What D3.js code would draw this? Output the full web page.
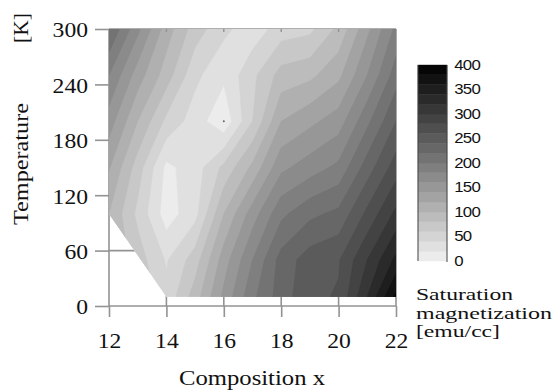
<!DOCTYPE html>
<html><head><meta charset="utf-8">
<script src="https://cdn.jsdelivr.net/npm/d3@7"></script>
<style>body{margin:0;background:#fff} svg{display:block}</style>
</head><body>
<svg id="chart" width="554" height="390"></svg>
<script>
// ---- data ----
const compositions = [12, 13, 14, 15, 16, 17, 18, 19, 20, 21, 22];
const temperatures = [300, 250, 200, 150, 100, 50, 10];
// saturation magnetization [emu/cc], one row per temperature
const ms300 = [220, 165, 110, 70, 45, 28, 50, 55, 85, 135, 185];
const ms250 = [180, 130, 90, 45, 24, 55, 88, 95, 115, 160, 210];
const ms200 = [150, 100, 55, 30, 5, 60, 120, 135, 150, 195, 240];
const ms150 = [122, 70, 15, 30, 65, 105, 155, 170, 185, 230, 270];
const ms100 = [100, 55, 10, 33, 100, 150, 195, 215, 225, 265, 305];
const ms50  = [100, 70, 38, 70, 130, 180, 228, 250, 258, 300, 345];
const ms10  = [110, 80, 45, 90, 145, 195, 230, 255, 262, 320, 385];
const validRegion = [[12, 100], [12, 300], [22, 300], [22, 10], [14, 10]];
const peakMarker = [[16, 200]];
const xTicks = [12, 14, 16, 18, 20, 22];
const yTicks = [0, 60, 120, 180, 240, 300];
const levels = d3.range(0, 400, 20);
const legendTicks = [0, 50, 100, 150, 200, 250, 300, 350, 400];

// ---- layout ----
const svg = d3.select("#chart");
const x = d3.scaleLinear().domain([12, 22]).range([109, 396]);
const y = d3.scaleLinear().domain([0, 300]).range([306, 29]);
const gray = v => { const k = Math.floor(v / 20); const g = Math.round(236 - 12.1 * k); return `rgb(${g},${g},${g})`; };
const lineColor = "#939393";
const serif = "'Liberation Serif','Times New Roman',serif";

// grid lines (under the fill)
const grid = svg.append("g").attr("stroke", lineColor).attr("stroke-width", 1.6);
grid.selectAll(".gy").data(yTicks).join("line")
  .attr("x1", x(12)).attr("x2", x(22)).attr("y1", d => y(d)).attr("y2", d => y(d));
grid.selectAll(".gx").data(xTicks).join("line")
  .attr("y1", y(0)).attr("y2", y(300)).attr("x1", d => x(d)).attr("x2", d => x(d));

// axes
const yAxis = svg.append("g").attr("transform", `translate(${x(12)},0)`)
  .call(d3.axisLeft(y).tickValues(yTicks).tickSizeInner(14).tickSizeOuter(0));
const xAxis = svg.append("g").attr("transform", `translate(0,${y(0)})`)
  .call(d3.axisBottom(x).tickValues(xTicks).tickSizeInner(11).tickSizeOuter(0));
[yAxis, xAxis].forEach(a => {
  a.select(".domain").remove();
  a.selectAll(".tick line").attr("stroke", lineColor).attr("stroke-width", 1.6);
  a.selectAll("text").attr("fill", "#111").style("font-family", serif).style("font-size", "20px");
});
yAxis.selectAll("text").attr("x", null).attr("dy", "0.34em")
  .attr("transform", "translate(-21,1) scale(1.18,1)");
xAxis.selectAll("text").attr("y", 42).attr("dy", 0)
  .attr("transform", "scale(1.18,1)");

// contour fill
const nx = compositions.length, ny = temperatures.length;
const values = [ms300, ms250, ms200, ms150, ms100, ms50, ms10].flat();
const contours = d3.contours().size([nx, ny]).thresholds(levels)(values);
const gx = d3.scaleLinear().domain(compositions.map((_, i) => i + 0.5)).range(compositions);
const gy = d3.scaleLinear().domain(temperatures.map((_, j) => j + 0.5)).range(temperatures);
const proj = d3.geoTransform({ point(px, py) { this.stream.point(x(gx(px)), y(gy(py))); } });
const path = d3.geoPath(proj);

svg.append("clipPath").attr("id", "region").append("path")
  .attr("d", d3.line().x(d => x(d[0])).y(d => y(d[1]))(validRegion) + "Z");
svg.append("g").attr("clip-path", "url(#region)")
  .selectAll("path").data(contours).join("path")
  .attr("d", path).attr("fill", d => gray(d.value))
  .attr("stroke", d => gray(d.value)).attr("stroke-width", 0.5);

// small inner ticks along top frame
svg.append("g").attr("stroke", lineColor).attr("stroke-width", 1.4)
  .selectAll("line").data(xTicks.slice(1, -1)).join("line")
  .attr("x1", d => x(d)).attr("x2", d => x(d)).attr("y1", y(300)).attr("y2", y(300) + 3);

svg.selectAll(".peak").data(peakMarker).join("circle")
  .attr("cx", d => x(d[0])).attr("cy", d => y(d[1])).attr("r", 1).attr("fill", "#666");

// axis titles
svg.append("text").attr("x", 252).attr("y", 385).attr("text-anchor", "middle")
  .attr("textLength", 146).attr("lengthAdjust", "spacingAndGlyphs")
  .style("font-family", serif).style("font-size", "20px").attr("fill", "#111").text("Composition x");
svg.append("text").attr("transform", "translate(28,164) rotate(-90)").attr("text-anchor", "middle")
  .attr("textLength", 122).attr("lengthAdjust", "spacingAndGlyphs")
  .style("font-family", serif).style("font-size", "20px").attr("fill", "#111").text("Temperature");
svg.append("text").attr("transform", "translate(28,28) rotate(-90)").attr("text-anchor", "middle")
  .attr("textLength", 30).attr("lengthAdjust", "spacingAndGlyphs")
  .style("font-family", serif).style("font-size", "20px").attr("fill", "#111").text("[K]");

// colour bar
const ly = d3.scaleLinear().domain([0, 400]).range([261, 65]);
const bar = svg.append("g");
bar.selectAll("rect").data(levels).join("rect")
  .attr("x", 418).attr("width", 29)
  .attr("y", d => ly(d + 20)).attr("height", d => ly(d) - ly(d + 20))
  .attr("fill", d => gray(d)).attr("stroke", d => gray(d)).attr("stroke-width", 0.4);
bar.append("line").attr("x1", 418).attr("x2", 418).attr("y1", ly(400)).attr("y2", ly(0)).attr("stroke", "#444");
bar.append("line").attr("x1", 447).attr("x2", 447).attr("y1", ly(400)).attr("y2", ly(0) + 1).attr("stroke", "#444");
const lAxis = svg.append("g").attr("transform", "translate(447,0)")
  .call(d3.axisRight(ly).tickValues(legendTicks).tickSize(0).tickPadding(6));
lAxis.select(".domain").remove();
lAxis.selectAll("text").attr("fill", "#111")
  .style("font-family", "'Liberation Sans',Arial,sans-serif").style("font-size", "14px")
  .style("letter-spacing", "-0.6px")
  .attr("transform", "scale(1.2,1)");

const legendTitle = [["Saturation", 300, 97], ["magnetization", 318.5, 136], ["[emu/cc]", 337, 84]];
svg.selectAll(".lt").data(legendTitle).join("text")
  .attr("x", 416).attr("y", d => d[1]).attr("textLength", d => d[2]).attr("lengthAdjust", "spacingAndGlyphs")
  .style("font-family", serif).style("font-size", "16.5px").attr("fill", "#111").text(d => d[0]);
</script>
</body></html>
